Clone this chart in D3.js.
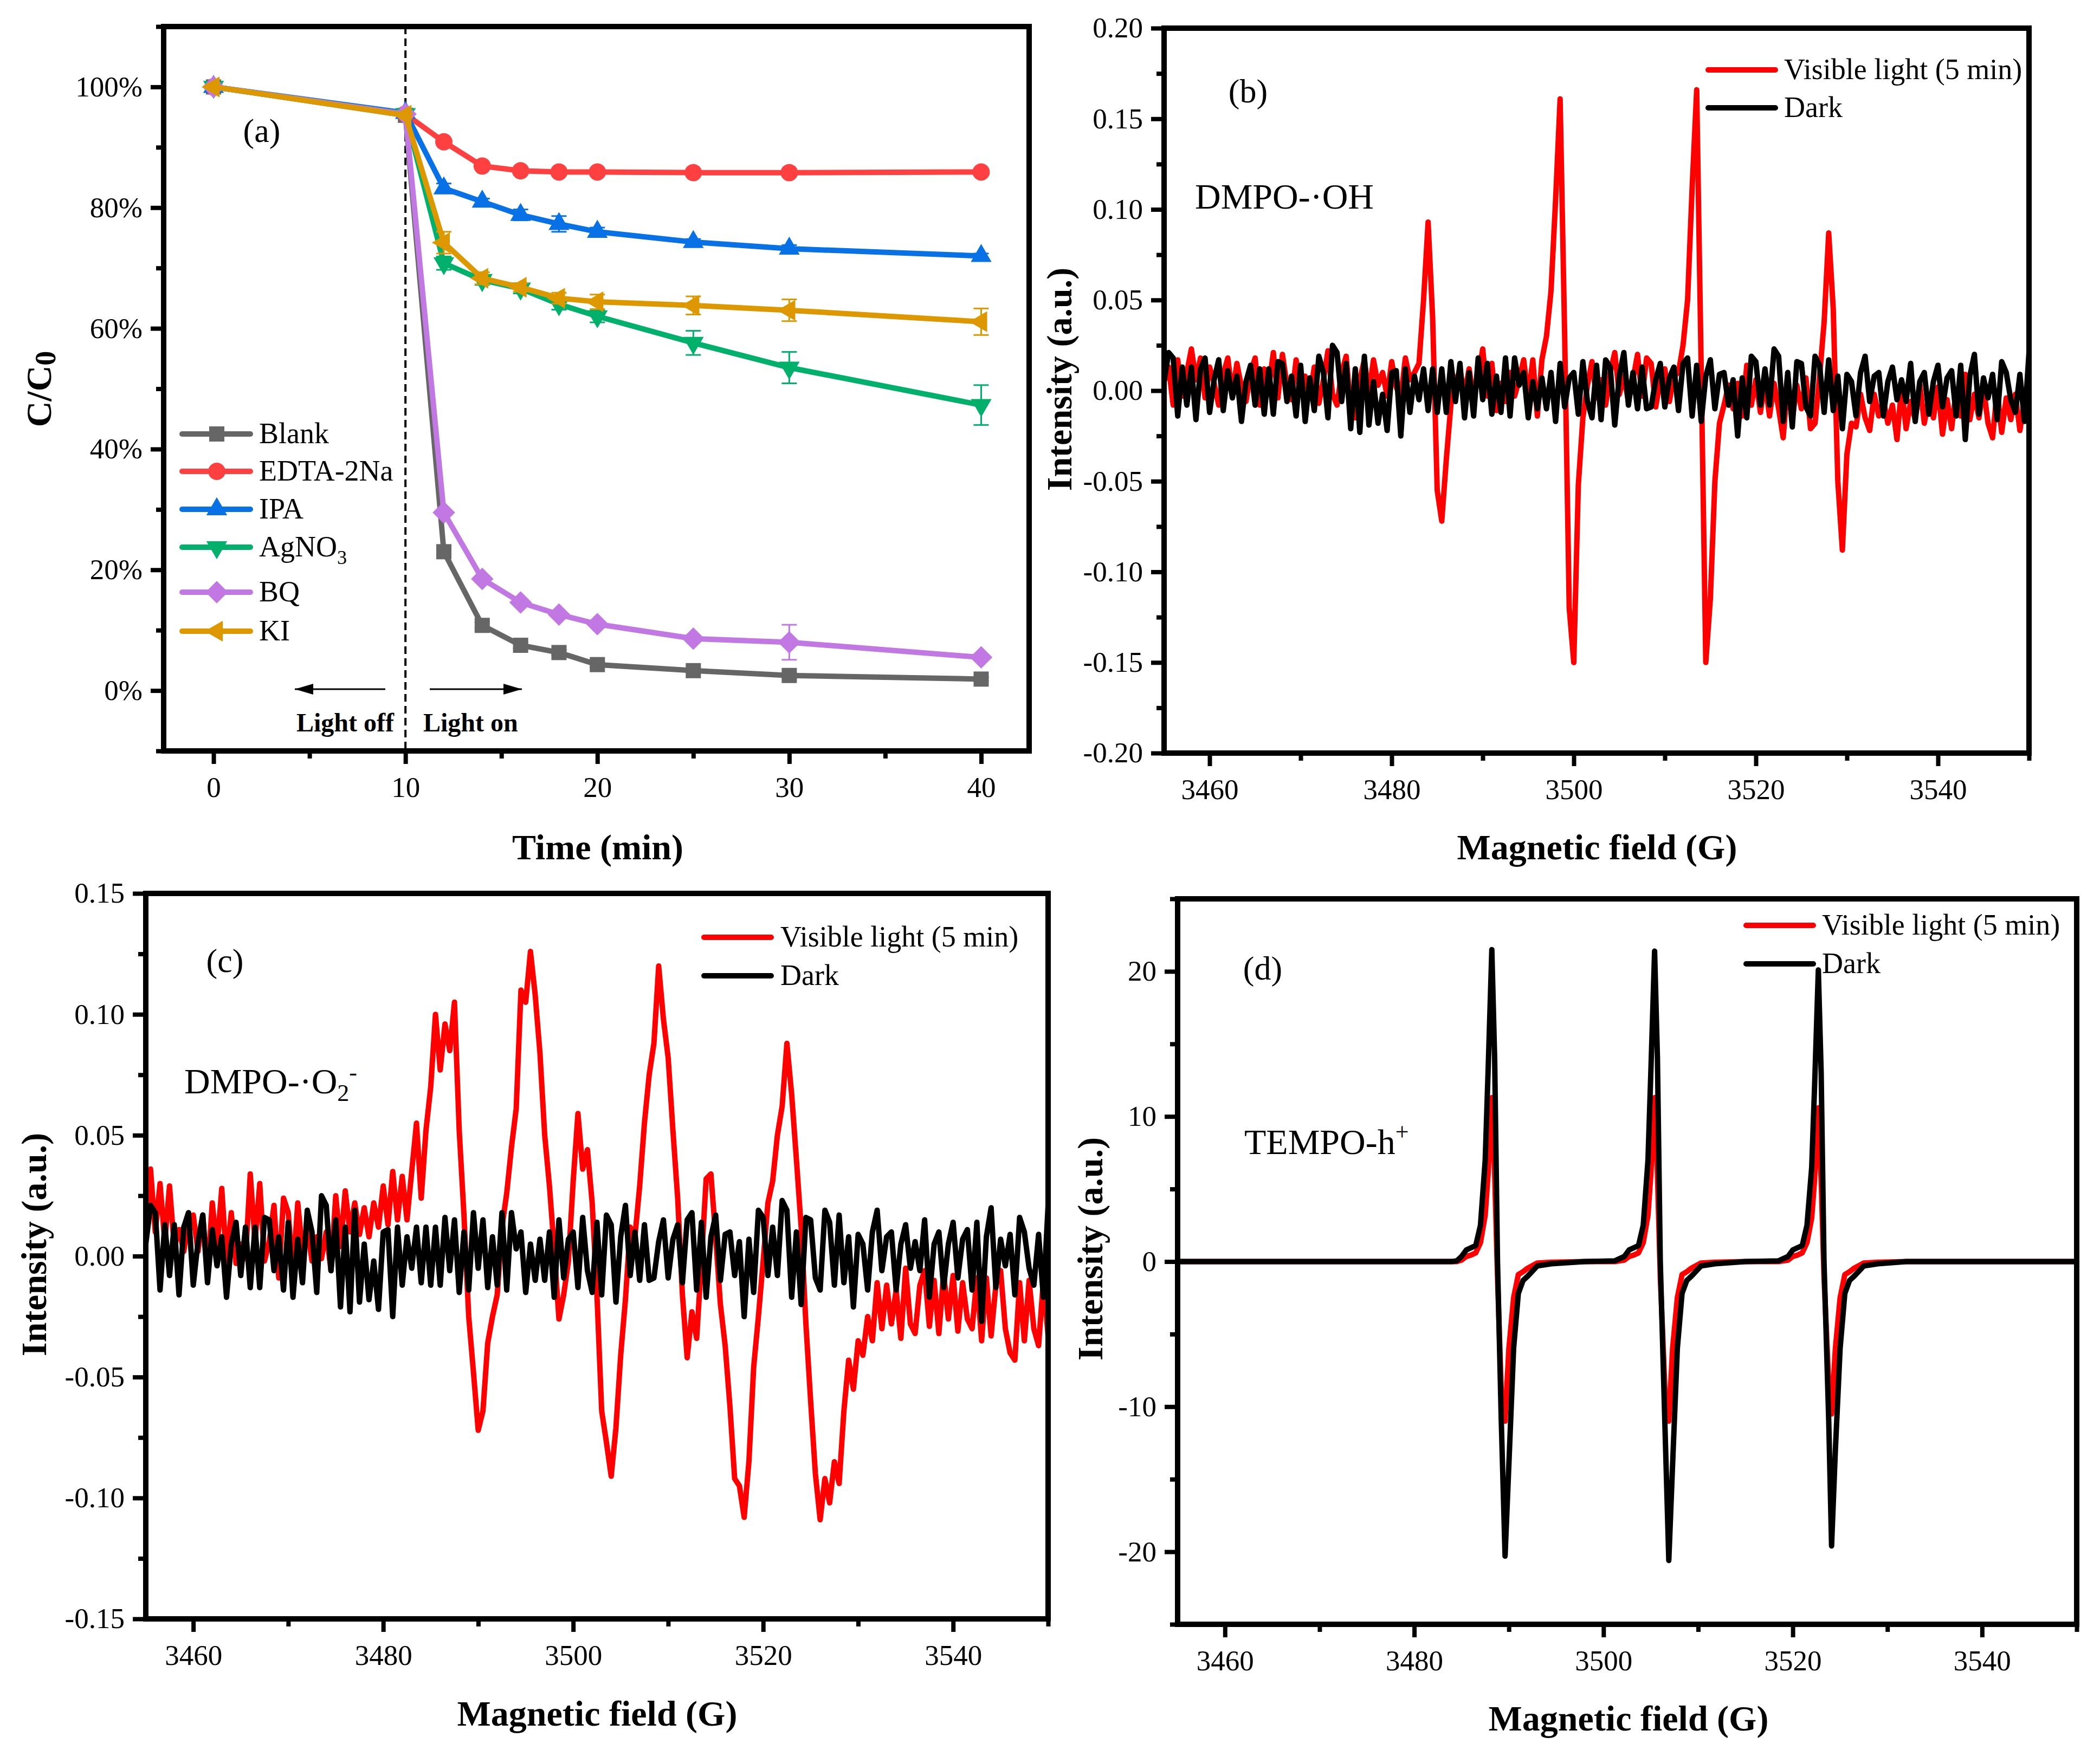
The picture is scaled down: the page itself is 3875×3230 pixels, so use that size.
<!DOCTYPE html>
<html>
<head>
<meta charset="utf-8">
<script src="https://cdn.jsdelivr.net/npm/d3@7"></script>
<style>
  body { margin: 0; background: #fff; }
  text { font-family: "Liberation Serif", "Times New Roman", serif; fill: #000; }
</style>
</head>
<body>
<script>
// (a) degradation with scavengers
const times = [0, 10, 12, 14, 16, 18, 20, 25, 30, 40];
const blank = [100, 95.3, 23, 10.8, 7.5, 6.3, 4.3, 3.3, 2.5, 1.9];
const edta = [100, 95.5, 90.9, 86.9, 86.1, 85.9, 85.9, 85.8, 85.8, 85.9];
const ipa = [100, 95.7, 83.2, 81, 78.8, 77.3, 76, 74.3, 73.2, 72];
const agno3 = [100, 95.5, 70.8, 68, 66.6, 64, 62, 57.6, 53.5, 47.3];
const bq = [100, 95.5, 29.5, 18.5, 14.6, 12.6, 11, 8.6, 8, 5.5];
const ki = [100, 95.3, 74.2, 68.3, 66.8, 65, 64.4, 63.8, 63, 61.1];
const blankErr = [0, 0.3, 0.8, 0.5, 0.5, 0.4, 0.4, 0.3, 0.4, 0.3];
const edtaErr = [0, 0.3, 0.5, 0.4, 0.3, 0.3, 0.3, 0.3, 0.3, 0.3];
const ipaErr = [0, 0.4, 0.8, 0.5, 0.9, 1.3, 0.7, 0.5, 0.6, 0.4];
const agno3Err = [0, 0.4, 1.1, 0.8, 0.8, 0.9, 1, 2, 2.6, 3.3];
const bqErr = [0, 0.4, 0.4, 0.5, 0.4, 0.4, 0.4, 0.5, 2.9, 0.4];
const kiErr = [0, 0.3, 1.8, 1, 0.7, 0.9, 1.2, 1.5, 1.8, 2.2];
const minorTime = [5, 15, 25, 35];

// (b), (c) spectra in 1/1000 of the intensity unit, one reading per 0.5 G from 3455 G
const dmpoDark = [
  5,21,18,-14,13,-8,13,-16,12,18,
  -12,6,17,-11,11,-4,8,-17,5,14,
  -8,12,-13,12,-13,16,15,-6,8,-14,
  14,-17,7,-11,19,10,-15,25,21,-6,
  15,-21,12,-23,19,-19,5,-18,-2,-22,
  10,11,-25,12,-12,8,-5,12,-11,12,
  -12,12,-12,16,-6,15,-15,10,-14,18,
  -5,15,-13,8,-12,18,-14,18,3,10,
  -15,5,-10,7,-10,10,-17,15,-9,7,
  10,-13,16,-6,-15,14,-16,17,13,-19,
  8,21,-8,10,-10,13,-10,-9,6,15,
  -9,7,13,-11,15,18,-14,14,-17,8,
  17,-10,9,10,-8,6,-25,7,-15,19,
  16,-8,12,-8,23,19,-17,10,-20,16,
  15,-9,-14,19,14,-12,17,-11,8,-21,
  9,5,-14,10,19,-6,8,10,-14,5,
  13,-5,6,-6,15,-17,5,10,-13,5,
  14,-9,7,11,-14,14,-27,8,20,-13,
  7,-4,9,-16,16,10,-5,-12,9,-17,
  21];
const bLight = [
  5,13,-8,17,-3,10,23,6,18,-4,
  13,4,-8,9,18,-2,15,2,-6,10,
  18,-8,12,2,21,-4,20,3,-5,17,
  2,8,-4,13,-7,6,22,-2,-8,10,
  19,-11,-15,6,17,-2,17,3,10,-3,
  16,2,-4,18,6,10,15,50,93,40,
  -55,-72,-38,-8,5,11,-2,12,-4,8,
  23,-3,15,-11,4,-6,10,-3,6,17,
  -4,17,-14,17,30,55,105,161,30,-120,
  -150,-52,-15,3,16,-4,6,-8,10,21,
  -2,8,-6,6,20,-3,18,15,-9,6,
  12,-6,8,10,25,50,112,166,10,-150,
  -115,-50,-18,-8,3,-10,4,-14,14,-8,
  6,-12,5,-14,4,-10,-26,5,-16,3,
  -10,7,-21,-18,8,38,87,45,-50,-88,
  -35,-18,-20,-2,-15,-22,-2,-14,-5,-18,
  -8,-27,2,-21,-6,-16,4,-18,-4,-15,
  2,-24,-5,-21,0,-14,9,-16,-2,-15,
  2,-18,-26,0,-23,-4,-16,-2,-22,-6,
  -18];
const cLight = [
  12,36,10,30,6,29,4,11,2,14,
  17,2,17,-8,22,3,28,-2,18,-3,
  5,-1,34,6,30,-2,6,21,-9,24,
  18,-7,22,2,12,-2,8,-1,10,-6,
  25,4,27,10,22,9,20,8,22,12,
  29,13,35,15,33,15,35,55,24,52,
  70,100,77,96,85,105,52,17,-25,-48,
  -72,-64,-36,-25,-16,12,26,45,61,110,
  105,126,108,84,50,29,3,-26,-16,-2,
  31,59,36,44,22,-16,-64,-77,-91,-71,
  -41,-18,12,8,29,55,75,88,120,98,
  82,52,24,-16,-42,-23,-34,-2,32,34,
  8,-20,-37,-62,-92,-95,-108,-85,-46,-25,
  -2,22,31,50,62,88,67,40,12,-28,
  -60,-90,-109,-92,-102,-85,-94,-64,-43,-55,
  -35,-41,-25,-35,-11,-30,-12,-28,-14,-34,
  -5,-28,-32,-12,-6,-29,-10,-32,-7,-26,
  -8,-31,-11,-26,-30,-9,-35,-9,-33,-12,
  -6,-30,-40,-43,-11,-35,-10,-30,-37,-10,
  -33];

// (d) TEMPO triplet, readings taken where the trace bends
const tempoField = [3455,3480,3484,3484.5,3485,3485.5,3486,3486.5,3487,3487.5,3487.8,3488.2,3488.5,3488.8,3489.2,3489.6,3490,3490.5,3491,3491.5,3492,3493,3494.5,3498,
  3501.2,3502.2,3502.7,3503.2,3503.7,3504.2,3504.7,3505,3505.4,3505.7,3506,3506.5,3506.9,3507.3,3507.8,3508.3,3508.8,3509.3,3510.3,3511.8,3515,
  3518.5,3519.5,3520,3520.5,3521,3521.5,3522,3522.3,3522.7,3523,3523.3,3523.8,3524.1,3524.5,3525,3525.5,3526,3526.5,3527.5,3529,3532,3550];
const tempoDark = [0,0,0,0.05,0.35,0.8,0.95,1.1,2.5,7,13,21.5,14,0,-11,-20.3,-14,-6,-2.2,-1.3,-1,-0.3,-0.15,0,
  0.05,0.35,0.8,0.95,1.1,2.5,7,13,21.4,14,0,-11.5,-20.6,-14,-6,-2.2,-1.3,-1,-0.3,-0.15,0,
  0.05,0.35,0.8,0.95,1.1,2.5,6.5,12,20.1,13,0,-11,-19.6,-13,-6,-2.2,-1.3,-1,-0.3,-0.15,0,0];
const tempoLight = [0,0,0,0,0.1,0.35,0.45,0.6,1.3,3.2,6,11.3,6,-1,-9,-11,-6,-2.5,-0.9,-0.7,-0.45,-0.1,-0.05,0,
  0,0.1,0.35,0.45,0.6,1.3,3.2,6,11.3,6,-1,-9,-11,-6,-2.5,-0.9,-0.7,-0.45,-0.1,-0.05,0,
  0,0.1,0.35,0.45,0.6,1.3,3,5.6,10.6,5.6,-1,-8.5,-10.5,-6,-2.5,-0.9,-0.7,-0.45,-0.1,-0.05,0,0];

const fieldMajor = [3460, 3480, 3500, 3520, 3540];
const fieldMinor = [3470, 3490, 3510, 3530, 3550];

const svg = d3.select("body").append("svg")
  .attr("width", 3875)
  .attr("height", 3230);

const MAJOR = 24, MINOR = 14;
const plainNumber = f => d => f(d).replace("\u2212", "-");

function drawAxes(box, x, y, xMajor, xMinor, yMajor, yMinor, xFormat, yFormat) {
  const g = svg.append("g");
  const bottom = g.append("g").attr("transform", `translate(0,${box.bottom})`);
  const left = g.append("g").attr("transform", `translate(${box.left},0)`);

  bottom.append("g").call(d3.axisBottom(x).tickValues(xMinor).tickSize(MINOR).tickFormat(""));
  bottom.append("g").call(d3.axisBottom(x).tickValues(xMajor).tickSize(MAJOR).tickPadding(23).tickFormat(xFormat));
  left.append("g").call(d3.axisLeft(y).tickValues(yMinor).tickSize(MINOR).tickFormat(""));
  left.append("g").call(d3.axisLeft(y).tickValues(yMajor).tickSize(MAJOR).tickPadding(15).tickFormat(yFormat));

  g.selectAll(".domain").remove();
  g.selectAll(".tick line").attr("stroke", "#000").attr("stroke-width", 8);
  g.selectAll(".tick text").attr("font-size", 53).attr("font-family", "Liberation Serif").attr("fill", "#000");
}

function drawFrame(box) {
  svg.append("rect")
    .attr("x", box.left).attr("y", box.top)
    .attr("width", box.right - box.left).attr("height", box.bottom - box.top)
    .attr("fill", "none").attr("stroke", "#000").attr("stroke-width", 10);
}

function axisTitle(text, cx, baseline) {
  return svg.append("text").attr("x", cx).attr("y", baseline)
    .attr("text-anchor", "middle").attr("font-size", 66).attr("font-weight", "bold").text(text);
}

function sideTitle(text, baselineX, cy) {
  return svg.append("text")
    .attr("transform", `translate(${baselineX},${cy}) rotate(-90)`)
    .attr("text-anchor", "middle").attr("font-size", 66).attr("font-weight", "bold").text(text);
}

function note(text, x, baseline, size = 66) {
  return svg.append("text").attr("x", x).attr("y", baseline).attr("font-size", size).text(text);
}

function panelLetter(text, cx, cy) {
  svg.append("text").attr("x", cx).attr("y", cy + 19)
    .attr("text-anchor", "middle").attr("font-size", 62).text(text);
}

/* ------- PANEL A -------*/
const boxA = { left: 302, right: 1899, top: 49, bottom: 1386 };
const xA = d3.scaleLinear().domain([-2.6, 42.5]).range([boxA.left, boxA.right]);
const yA = d3.scaleLinear().domain([-10, 110]).range([boxA.bottom, boxA.top]);

drawAxes(boxA, xA, yA, [0, 10, 20, 30, 40], minorTime,
  [0, 20, 40, 60, 80, 100], [-10, 10, 30, 50, 70, 90, 110], d => d, d => d + "%");

svg.append("line")
  .attr("x1", xA(10)).attr("x2", xA(10)).attr("y1", boxA.top).attr("y2", boxA.bottom)
  .attr("stroke", "#000").attr("stroke-width", 4).attr("stroke-dasharray", "14,8");

const seriesA = [
  { name: "Blank", values: blank, err: blankErr, color: "#666666", symbol: d3.symbolSquare, size: 784, rotate: 0 },
  { name: "EDTA-2Na", values: edta, err: edtaErr, color: "#ff4040", symbol: d3.symbolCircle, size: 800, rotate: 0 },
  { name: "IPA", values: ipa, err: ipaErr, color: "#0771e5", symbol: d3.symbolTriangle, size: 640, rotate: 0 },
  { name: "AgNO3", values: agno3, err: agno3Err, color: "#00b06b", symbol: d3.symbolTriangle, size: 640, rotate: 180 },
  { name: "BQ", values: bq, err: bqErr, color: "#c278e2", symbol: d3.symbolSquare, size: 860, rotate: 45 },
  { name: "KI", values: ki, err: kiErr, color: "#dd9800", symbol: d3.symbolTriangle, size: 640, rotate: -90 }
];

const lineA = d3.line().x(d => xA(d[0])).y(d => yA(d[1]));

seriesA.forEach(s => {
  const g = svg.append("g");
  const pts = times.map((t, i) => [t, s.values[i], s.err[i]]);

  const bars = g.selectAll("g.err").data(pts).enter().append("g").attr("class", "err")
    .attr("stroke", s.color).attr("stroke-width", 3);
  bars.append("line")
    .attr("x1", d => xA(d[0])).attr("x2", d => xA(d[0]))
    .attr("y1", d => yA(d[1] - d[2])).attr("y2", d => yA(d[1] + d[2]));
  [-1, 1].forEach(sign => {
    bars.append("line")
      .attr("x1", d => xA(d[0]) - 14).attr("x2", d => xA(d[0]) + 14)
      .attr("y1", d => yA(d[1] + sign * d[2])).attr("y2", d => yA(d[1] + sign * d[2]));
  });

  g.append("path").attr("d", lineA(pts))
    .attr("fill", "none").attr("stroke", s.color).attr("stroke-width", 10);

  g.selectAll("path.mark").data(pts).enter().append("path").attr("class", "mark")
    .attr("d", d3.symbol().type(s.symbol).size(s.size))
    .attr("transform", d => `translate(${xA(d[0])},${yA(d[1])}) rotate(${s.rotate})`)
    .attr("fill", s.color);
});

// legend of (a)
const legendRows = [801, 870, 940, 1010, 1093, 1165];
seriesA.forEach((s, i) => {
  const ly = legendRows[i];
  svg.append("line").attr("x1", 336).attr("x2", 462).attr("y1", ly).attr("y2", ly)
    .attr("stroke", s.color).attr("stroke-width", 10).attr("stroke-linecap", "round");
  svg.append("path").attr("d", d3.symbol().type(s.symbol).size(s.size))
    .attr("transform", `translate(400,${ly}) rotate(${s.rotate})`).attr("fill", s.color);
  const t = svg.append("text").attr("x", 478).attr("y", ly + 17).attr("font-size", 54);
  if (s.name === "AgNO3") {
    t.append("tspan").text("AgNO");
    t.append("tspan").attr("font-size", 36).attr("dy", 14).text("3");
  } else {
    t.text(s.name);
  }
});

axisTitle("Time (min)", 1103, 1586);
const cTitle = svg.append("text")
  .attr("transform", `translate(94,718) rotate(-90)`)
  .attr("text-anchor", "middle").attr("font-size", 66).attr("font-weight", "bold");
cTitle.append("tspan").text("C/C");
cTitle.append("tspan").attr("font-size", 54).attr("dy", 8).text("0");
panelLetter("(a)", 483, 243);

// light on / off
svg.append("defs").append("marker")
  .attr("id", "head").attr("viewBox", "0 0 10 10").attr("refX", 10).attr("refY", 5)
  .attr("markerUnits", "userSpaceOnUse").attr("markerWidth", 34).attr("markerHeight", 20)
  .attr("orient", "auto").attr("preserveAspectRatio", "none")
  .append("path").attr("d", "M0,0L10,5L0,10Z").attr("fill", "#000");
[[711, 544], [793, 963]].forEach(a => {
  svg.append("line").attr("x1", a[0]).attr("x2", a[1]).attr("y1", 1272).attr("y2", 1272)
    .attr("stroke", "#000").attr("stroke-width", 3).attr("marker-end", "url(#head)");
});
svg.append("text").attr("x", 547).attr("y", 1350).attr("font-size", 48).attr("font-weight", "bold").text("Light off");
svg.append("text").attr("x", 781).attr("y", 1350).attr("font-size", 48).attr("font-weight", "bold").text("Light on");

/* ------- SPECTRA -------*/
function drawSpectrum(id, box, yDomain, yMajor, yMinor, yFormat, traces, legend) {
  const x = d3.scaleLinear().domain([3455, 3550]).range([box.left, box.right]);
  const y = d3.scaleLinear().domain(yDomain).range([box.bottom, box.top]);

  drawAxes(box, x, y, fieldMajor, fieldMinor, yMajor, yMinor, d => d, yFormat);

  svg.select("defs").append("clipPath").attr("id", id)
    .append("rect").attr("x", box.left).attr("y", box.top)
    .attr("width", box.right - box.left).attr("height", box.bottom - box.top);

  const line = d3.line().x(d => x(d[0])).y(d => y(d[1]));
  traces.forEach(t => {
    svg.append("path").attr("d", line(t.points))
      .attr("clip-path", `url(#${id})`)
      .attr("fill", "none").attr("stroke", t.color).attr("stroke-width", 10)
      .attr("stroke-linejoin", "round").attr("stroke-linecap", "round");
  });

  drawFrame(box);

  traces.forEach((t, i) => {
    const ly = legend.rows[i];
    svg.append("line").attr("x1", legend.x1).attr("x2", legend.x2).attr("y1", ly).attr("y2", ly)
      .attr("stroke", t.color).attr("stroke-width", 10).attr("stroke-linecap", "round");
    svg.append("text").attr("x", legend.textX).attr("y", ly + 17).attr("font-size", 54).text(t.name);
  });
}

const sweep = vals => vals.map((v, i) => [3455 + i * 0.5, v / 1000]);
const fmt2 = plainNumber(d3.format(".2f"));
const lightName = "Visible light (5 min)";

drawSpectrum("clipB", { left: 2148, right: 3744, top: 52, bottom: 1390 }, [-0.2, 0.2],
  [-0.2, -0.15, -0.1, -0.05, 0, 0.05, 0.1, 0.15, 0.2],
  [-0.175, -0.125, -0.075, -0.025, 0.025, 0.075, 0.125, 0.175], fmt2,
  [{ name: lightName, color: "#ff0000", points: sweep(bLight) },
   { name: "Dark", color: "#000000", points: sweep(dmpoDark) }],
  { x1: 3152, x2: 3276, textX: 3292, rows: [129, 199] });

drawSpectrum("clipC", { left: 269, right: 1934, top: 1649, bottom: 2988 }, [-0.15, 0.15],
  [-0.15, -0.1, -0.05, 0, 0.05, 0.1, 0.15],
  [-0.125, -0.075, -0.025, 0.025, 0.075, 0.125], fmt2,
  [{ name: lightName, color: "#ff0000", points: sweep(cLight) },
   { name: "Dark", color: "#000000", points: sweep(dmpoDark) }],
  { x1: 1299, x2: 1423, textX: 1440, rows: [1730, 1801] });

drawSpectrum("clipD", { left: 2173, right: 3832, top: 1659, bottom: 2998 }, [-25, 25],
  [-20, -10, 0, 10, 20], [-25, -15, -5, 5, 15, 25], plainNumber(d3.format("d")),
  [{ name: lightName, color: "#ff0000", points: tempoField.map((f, i) => [f, tempoLight[i]]) },
   { name: "Dark", color: "#000000", points: tempoField.map((f, i) => [f, tempoDark[i]]) }],
  { x1: 3222, x2: 3346, textX: 3362, rows: [1708, 1779] });

drawFrame(boxA);

axisTitle("Magnetic field (G)", 2947, 1586);
axisTitle("Magnetic field (G)", 1102, 3185);
axisTitle("Magnetic field (G)", 3005, 3194);
sideTitle("Intensity (a.u.)", 1977, 700);
sideTitle("Intensity (a.u.)", 85, 2297);
sideTitle("Intensity (a.u.)", 2034, 2305);

panelLetter("(b)", 2303, 170);
panelLetter("(c)", 415, 1775);
panelLetter("(d)", 2330, 1789);

note("DMPO-\u00b7OH", 2205, 385);

const o2 = note("DMPO-\u00b7O", 340, 2018);
o2.append("tspan").attr("font-size", 44).attr("dy", 14).text("2");
o2.append("tspan").attr("font-size", 44).attr("dy", -38).text("-");

const tempo = note("TEMPO-h", 2296, 2130);
tempo.append("tspan").attr("font-size", 44).attr("dy", -26).text("+");
</script>
</body>
</html>
